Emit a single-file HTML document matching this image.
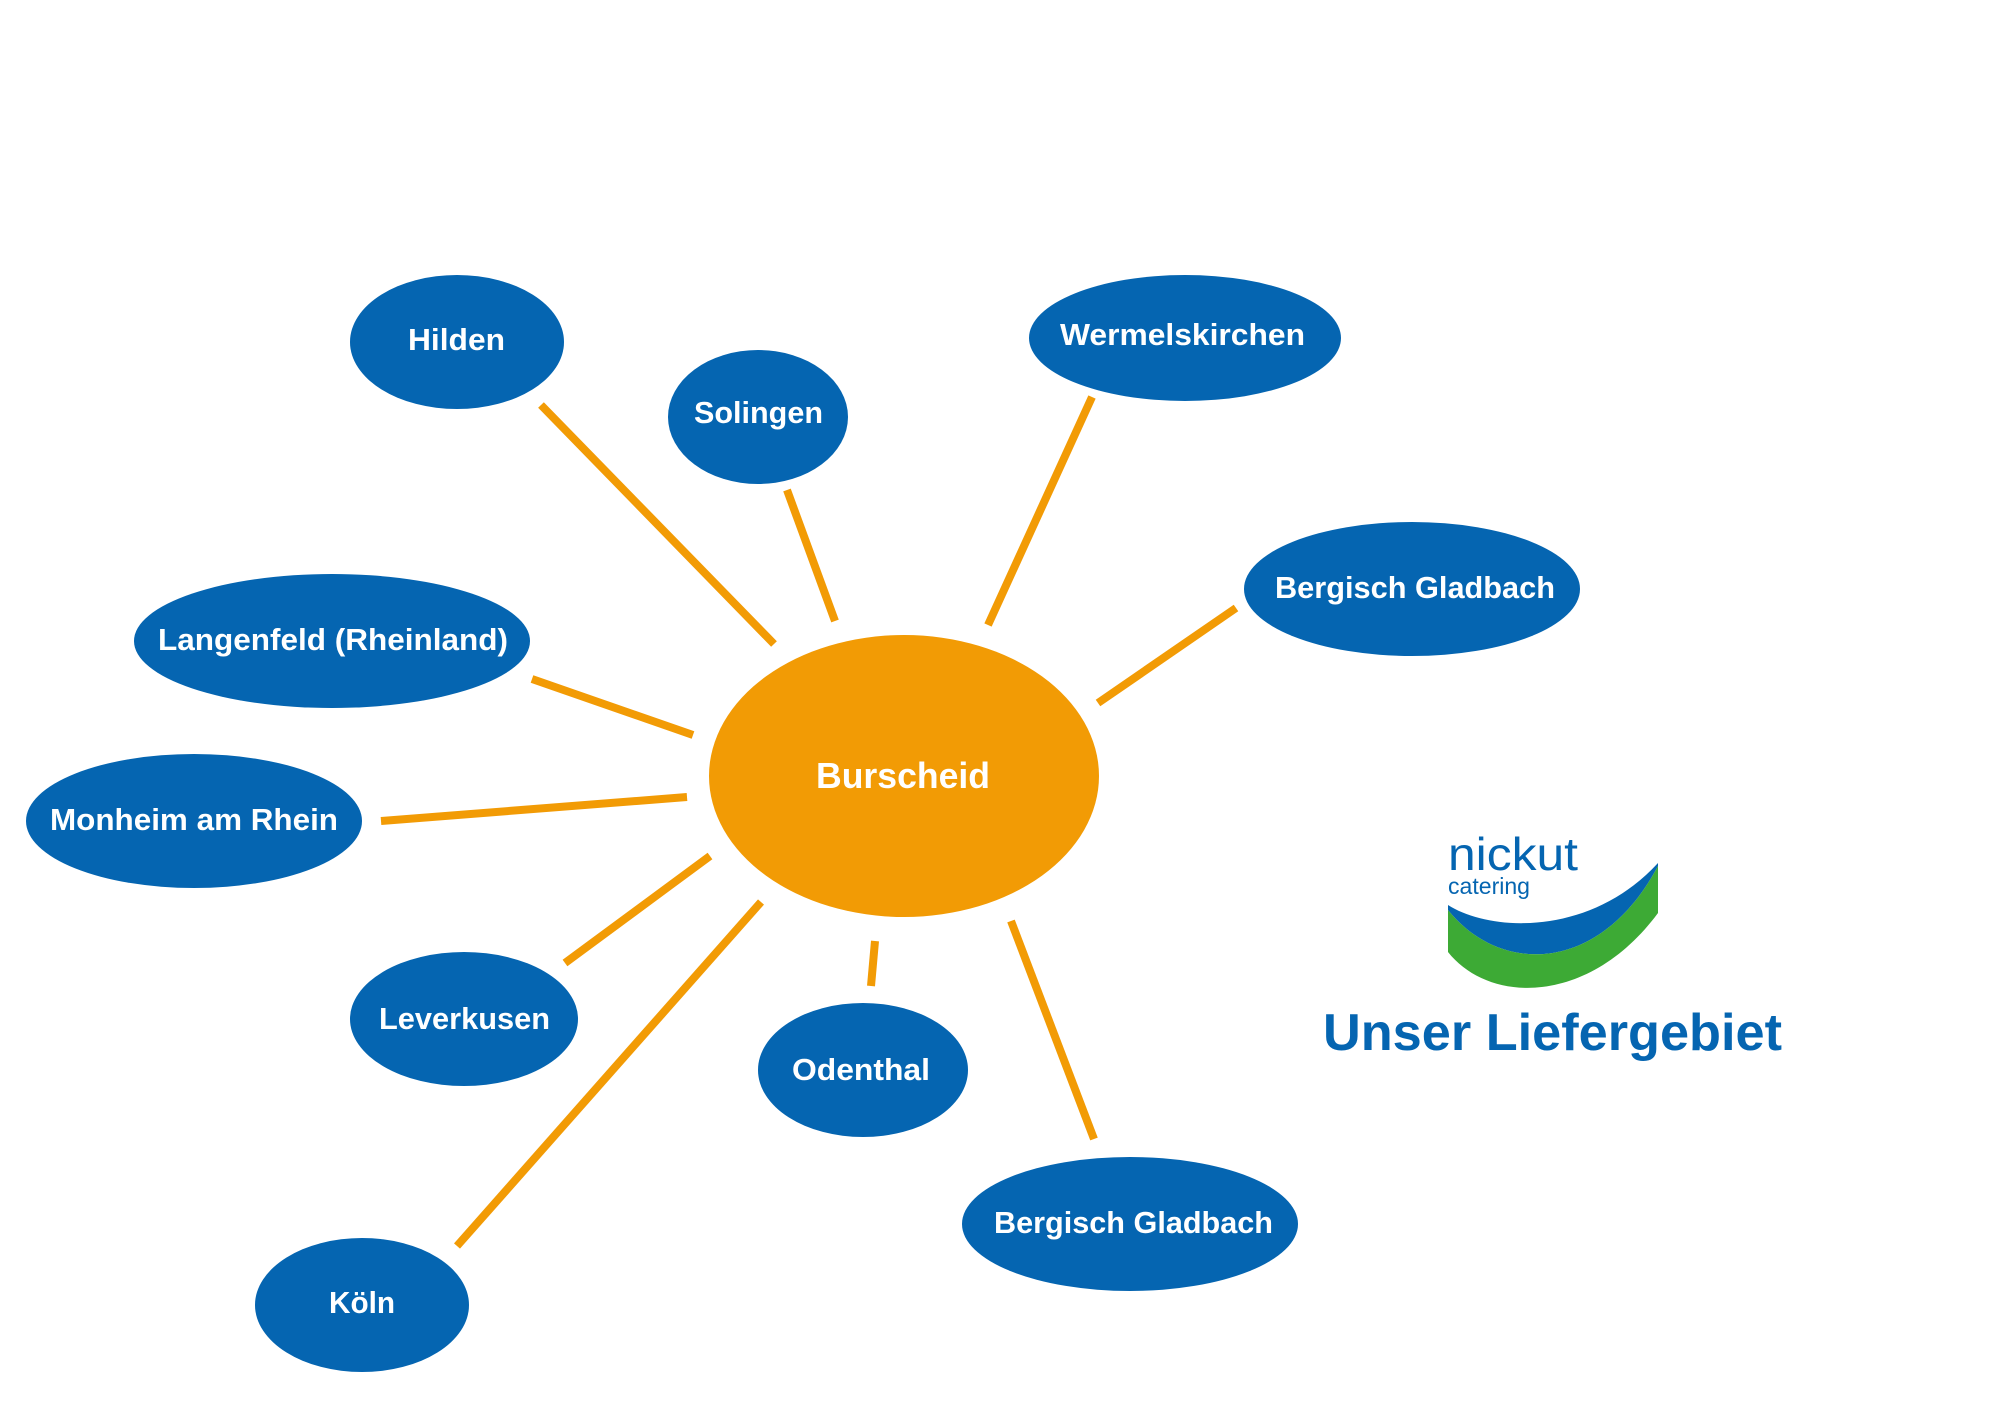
<!DOCTYPE html>
<html>
<head>
<meta charset="utf-8">
<style>
  html,body{margin:0;padding:0;background:#ffffff;}
  svg{display:block;}
  .lbl{font-family:"Liberation Sans",Arial,sans-serif;font-weight:bold;fill:#ffffff;}
</style>
</head>
<body>
<svg width="2000" height="1402" viewBox="0 0 2000 1402" xmlns="http://www.w3.org/2000/svg">
  <rect width="2000" height="1402" fill="#ffffff"/>

  <!-- connectors -->
  <g stroke="#F29B05" stroke-width="8" stroke-linecap="butt" fill="none">
    <line x1="541" y1="405" x2="774" y2="644"/>
    <line x1="787" y1="490" x2="835" y2="621"/>
    <line x1="1092" y1="397" x2="988" y2="625"/>
    <line x1="1236" y1="608" x2="1098" y2="703"/>
    <line x1="532" y1="679" x2="693" y2="735"/>
    <line x1="381" y1="821" x2="687" y2="797"/>
    <line x1="565" y1="963" x2="710" y2="856"/>
    <line x1="457" y1="1246" x2="761" y2="902"/>
    <line x1="875" y1="941" x2="871" y2="986"/>
    <line x1="1011" y1="921" x2="1094" y2="1139"/>
  </g>

  <!-- center -->
  <ellipse cx="904" cy="776" rx="195" ry="141" fill="#F29B05"/>
  <text class="lbl" x="903" y="788" font-size="36" text-anchor="middle" textLength="174" lengthAdjust="spacingAndGlyphs">Burscheid</text>

  <!-- nodes -->
  <g fill="#0565B1">
    <ellipse cx="457" cy="342" rx="107" ry="67"/>
    <ellipse cx="758" cy="417" rx="90" ry="67"/>
    <ellipse cx="1185" cy="338" rx="156" ry="63"/>
    <ellipse cx="1412" cy="589" rx="168" ry="67"/>
    <ellipse cx="332" cy="641" rx="198" ry="67"/>
    <ellipse cx="194" cy="821" rx="168" ry="67"/>
    <ellipse cx="464" cy="1019" rx="114" ry="67"/>
    <ellipse cx="362" cy="1305" rx="107" ry="67"/>
    <ellipse cx="863" cy="1070" rx="105" ry="67"/>
    <ellipse cx="1130" cy="1224" rx="168" ry="67"/>
  </g>

  <g class="lbl" font-size="31" text-anchor="middle">
    <text class="lbl" x="456.5" y="350" textLength="97" lengthAdjust="spacingAndGlyphs">Hilden</text>
    <text class="lbl" x="758.5" y="423" textLength="129" lengthAdjust="spacingAndGlyphs">Solingen</text>
    <text class="lbl" x="1182.5" y="345" textLength="245" lengthAdjust="spacingAndGlyphs">Wermelskirchen</text>
    <text class="lbl" x="1415" y="598" textLength="280" lengthAdjust="spacingAndGlyphs">Bergisch Gladbach</text>
    <text class="lbl" x="333" y="650" textLength="350" lengthAdjust="spacingAndGlyphs">Langenfeld (Rheinland)</text>
    <text class="lbl" x="194" y="830" textLength="288" lengthAdjust="spacingAndGlyphs">Monheim am Rhein</text>
    <text class="lbl" x="464.5" y="1029" textLength="171" lengthAdjust="spacingAndGlyphs">Leverkusen</text>
    <text class="lbl" x="362" y="1313" textLength="66" lengthAdjust="spacingAndGlyphs">Köln</text>
    <text class="lbl" x="861" y="1080" textLength="138" lengthAdjust="spacingAndGlyphs">Odenthal</text>
    <text class="lbl" x="1133.5" y="1233" textLength="279" lengthAdjust="spacingAndGlyphs">Bergisch Gladbach</text>
  </g>

  <!-- logo -->
  <text x="1448" y="870" font-family="Liberation Sans, Arial, sans-serif" font-size="46" fill="#0565B1" textLength="130" lengthAdjust="spacingAndGlyphs">nickut</text>
  <text x="1448" y="894" font-family="Liberation Sans, Arial, sans-serif" font-size="23" fill="#0565B1" textLength="82" lengthAdjust="spacingAndGlyphs">catering</text>
  <path d="M1448,905 C1490,932 1590,937 1658,863 L1658,866 C1600,975 1500,975 1448,910 Z" fill="#0565B1"/>
  <path d="M1448,910 C1500,975 1600,975 1658,866 L1658,913 C1590,1005 1490,1005 1448,952 Z" fill="#3DAA35"/>

  <text x="1323" y="1050" font-family="Liberation Sans, Arial, sans-serif" font-weight="bold" font-size="52" fill="#0565B1" textLength="459" lengthAdjust="spacingAndGlyphs">Unser Liefergebiet</text>
</svg>
</body>
</html>
